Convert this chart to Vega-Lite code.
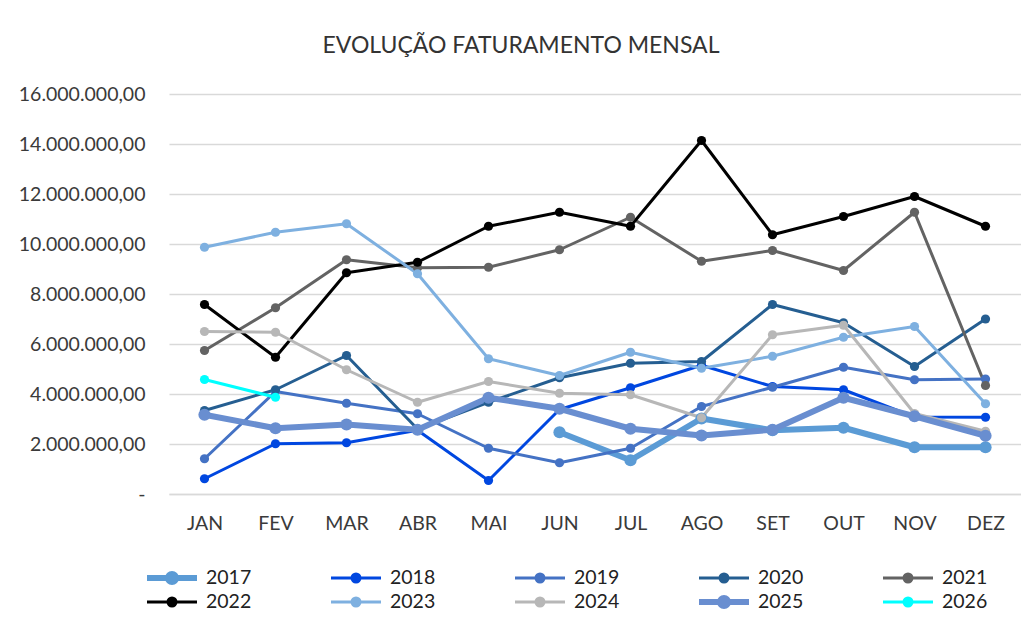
{
  "$schema": "https://vega.github.io/schema/vega-lite/v6.json",
  "autosize": {"type": "none"},
  "width": 852,
  "height": 400,
  "padding": {"left": 169, "top": 94, "right": 0, "bottom": 132},
  "background": "white",
  "title": {
    "text": "EVOLUÇÃO FATURAMENTO MENSAL",
    "font": "Lato",
    "fontSize": 23,
    "fontWeight": "normal",
    "color": "#333333",
    "anchor": "middle",
    "dx": -74,
    "offset": 26
  },
  "config": {
    "locale": {"number": {"decimal": ",", "thousands": ".", "grouping": [3], "currency": ["R$ ", ""]}},
    "view": {"stroke": null},
    "font": "Lato"
  },
  "data": {"values": [
    {"mes": "JUN", "ano": "2017", "valor": 2470000},
    {"mes": "JUL", "ano": "2017", "valor": 1350000},
    {"mes": "AGO", "ano": "2017", "valor": 3020000},
    {"mes": "SET", "ano": "2017", "valor": 2550000},
    {"mes": "OUT", "ano": "2017", "valor": 2650000},
    {"mes": "NOV", "ano": "2017", "valor": 1870000},
    {"mes": "DEZ", "ano": "2017", "valor": 1870000},
    {"mes": "JAN", "ano": "2018", "valor": 610000},
    {"mes": "FEV", "ano": "2018", "valor": 2010000},
    {"mes": "MAR", "ano": "2018", "valor": 2050000},
    {"mes": "ABR", "ano": "2018", "valor": 2550000},
    {"mes": "MAI", "ano": "2018", "valor": 540000},
    {"mes": "JUN", "ano": "2018", "valor": 3380000},
    {"mes": "JUL", "ano": "2018", "valor": 4250000},
    {"mes": "AGO", "ano": "2018", "valor": 5150000},
    {"mes": "SET", "ano": "2018", "valor": 4300000},
    {"mes": "OUT", "ano": "2018", "valor": 4170000},
    {"mes": "NOV", "ano": "2018", "valor": 3080000},
    {"mes": "DEZ", "ano": "2018", "valor": 3070000},
    {"mes": "JAN", "ano": "2019", "valor": 1410000},
    {"mes": "FEV", "ano": "2019", "valor": 4100000},
    {"mes": "MAR", "ano": "2019", "valor": 3630000},
    {"mes": "ABR", "ano": "2019", "valor": 3210000},
    {"mes": "MAI", "ano": "2019", "valor": 1830000},
    {"mes": "JUN", "ano": "2019", "valor": 1250000},
    {"mes": "JUL", "ano": "2019", "valor": 1830000},
    {"mes": "AGO", "ano": "2019", "valor": 3500000},
    {"mes": "SET", "ano": "2019", "valor": 4270000},
    {"mes": "OUT", "ano": "2019", "valor": 5070000},
    {"mes": "NOV", "ano": "2019", "valor": 4570000},
    {"mes": "DEZ", "ano": "2019", "valor": 4600000},
    {"mes": "JAN", "ano": "2020", "valor": 3340000},
    {"mes": "FEV", "ano": "2020", "valor": 4170000},
    {"mes": "MAR", "ano": "2020", "valor": 5540000},
    {"mes": "ABR", "ano": "2020", "valor": 2600000},
    {"mes": "MAI", "ano": "2020", "valor": 3670000},
    {"mes": "JUN", "ano": "2020", "valor": 4650000},
    {"mes": "JUL", "ano": "2020", "valor": 5230000},
    {"mes": "AGO", "ano": "2020", "valor": 5300000},
    {"mes": "SET", "ano": "2020", "valor": 7580000},
    {"mes": "OUT", "ano": "2020", "valor": 6850000},
    {"mes": "NOV", "ano": "2020", "valor": 5100000},
    {"mes": "DEZ", "ano": "2020", "valor": 7000000},
    {"mes": "JAN", "ano": "2021", "valor": 5740000},
    {"mes": "FEV", "ano": "2021", "valor": 7450000},
    {"mes": "MAR", "ano": "2021", "valor": 9370000},
    {"mes": "ABR", "ano": "2021", "valor": 9050000},
    {"mes": "MAI", "ano": "2021", "valor": 9070000},
    {"mes": "JUN", "ano": "2021", "valor": 9770000},
    {"mes": "JUL", "ano": "2021", "valor": 11070000},
    {"mes": "AGO", "ano": "2021", "valor": 9310000},
    {"mes": "SET", "ano": "2021", "valor": 9740000},
    {"mes": "OUT", "ano": "2021", "valor": 8940000},
    {"mes": "NOV", "ano": "2021", "valor": 11270000},
    {"mes": "DEZ", "ano": "2021", "valor": 4340000},
    {"mes": "JAN", "ano": "2022", "valor": 7580000},
    {"mes": "FEV", "ano": "2022", "valor": 5470000},
    {"mes": "MAR", "ano": "2022", "valor": 8850000},
    {"mes": "ABR", "ano": "2022", "valor": 9270000},
    {"mes": "MAI", "ano": "2022", "valor": 10710000},
    {"mes": "JUN", "ano": "2022", "valor": 11270000},
    {"mes": "JUL", "ano": "2022", "valor": 10710000},
    {"mes": "AGO", "ano": "2022", "valor": 14140000},
    {"mes": "SET", "ano": "2022", "valor": 10370000},
    {"mes": "OUT", "ano": "2022", "valor": 11100000},
    {"mes": "NOV", "ano": "2022", "valor": 11900000},
    {"mes": "DEZ", "ano": "2022", "valor": 10710000},
    {"mes": "JAN", "ano": "2023", "valor": 9870000},
    {"mes": "FEV", "ano": "2023", "valor": 10470000},
    {"mes": "MAR", "ano": "2023", "valor": 10810000},
    {"mes": "ABR", "ano": "2023", "valor": 8810000},
    {"mes": "MAI", "ano": "2023", "valor": 5410000},
    {"mes": "JUN", "ano": "2023", "valor": 4740000},
    {"mes": "JUL", "ano": "2023", "valor": 5670000},
    {"mes": "AGO", "ano": "2023", "valor": 5030000},
    {"mes": "SET", "ano": "2023", "valor": 5510000},
    {"mes": "OUT", "ano": "2023", "valor": 6270000},
    {"mes": "NOV", "ano": "2023", "valor": 6700000},
    {"mes": "DEZ", "ano": "2023", "valor": 3610000},
    {"mes": "JAN", "ano": "2024", "valor": 6500000},
    {"mes": "FEV", "ano": "2024", "valor": 6470000},
    {"mes": "MAR", "ano": "2024", "valor": 4970000},
    {"mes": "ABR", "ano": "2024", "valor": 3670000},
    {"mes": "MAI", "ano": "2024", "valor": 4500000},
    {"mes": "JUN", "ano": "2024", "valor": 4030000},
    {"mes": "JUL", "ano": "2024", "valor": 3970000},
    {"mes": "AGO", "ano": "2024", "valor": 3050000},
    {"mes": "SET", "ano": "2024", "valor": 6370000},
    {"mes": "OUT", "ano": "2024", "valor": 6750000},
    {"mes": "NOV", "ano": "2024", "valor": 3220000},
    {"mes": "DEZ", "ano": "2024", "valor": 2510000},
    {"mes": "JAN", "ano": "2025", "valor": 3170000},
    {"mes": "FEV", "ano": "2025", "valor": 2630000},
    {"mes": "MAR", "ano": "2025", "valor": 2780000},
    {"mes": "ABR", "ano": "2025", "valor": 2570000},
    {"mes": "MAI", "ano": "2025", "valor": 3850000},
    {"mes": "JUN", "ano": "2025", "valor": 3410000},
    {"mes": "JUL", "ano": "2025", "valor": 2610000},
    {"mes": "AGO", "ano": "2025", "valor": 2340000},
    {"mes": "SET", "ano": "2025", "valor": 2570000},
    {"mes": "OUT", "ano": "2025", "valor": 3850000},
    {"mes": "NOV", "ano": "2025", "valor": 3110000},
    {"mes": "DEZ", "ano": "2025", "valor": 2330000},
    {"mes": "JAN", "ano": "2026", "valor": 4580000},
    {"mes": "FEV", "ano": "2026", "valor": 3870000}
  ]},
  "encoding": {
    "x": {
      "field": "mes", "type": "ordinal",
      "sort": ["JAN","FEV","MAR","ABR","MAI","JUN","JUL","AGO","SET","OUT","NOV","DEZ"],
      "axis": {
        "title": null, "labelAngle": 0, "labelFont": "Lato", "labelFontSize": 19.5,
        "labelColor": "#3a3a3a", "labelPadding": 20, "ticks": false,
        "domain": true, "domainColor": "#d9d9d9", "domainWidth": 1.5, "grid": false
      }
    },
    "y": {
      "field": "valor", "type": "quantitative",
      "scale": {"domain": [0, 16000000], "nice": false},
      "axis": {
        "title": null, "values": [0,2000000,4000000,6000000,8000000,10000000,12000000,14000000,16000000],
        "format": ",.2f", "labelOverlap": false,
        "labelExpr": "datum.value == 0 ? '-' : datum.label",
        "labelFont": "Lato", "labelFontSize": 19.5, "labelColor": "#3a3a3a",
        "labelPadding": 24, "ticks": false, "domain": false,
        "grid": true, "gridColor": "#d9d9d9", "gridWidth": 1.5,
        "encode": {"labels": {"update": {"dx": {"signal": "datum.value == 0 ? -12 : 0"}}}}
      }
    },
    "color": {
      "field": "ano", "type": "nominal",
      "scale": {
        "domain": ["2017","2018","2019","2020","2021","2022","2023","2024","2025","2026"],
        "range": ["#5b9bd5","#0047e0","#4472c4","#255e91","#636363","#000000","#7eb0e0","#b7b7b7","#698ed0","#00ffff"]
      },
      "legend": {
        "title": null, "orient": "none", "legendX": -25, "legendY": 474,
        "direction": "horizontal", "columns": 5, "columnPadding": 76, "rowPadding": 4,
        "clipHeight": 20,
        "symbolType": "M-1,0H1M0.16,0A0.16,0.16,0,1,1,-0.16,0A0.16,0.16,0,1,1,0.16,0Z",
        "symbolSize": 2500,
        "labelFont": "Lato", "labelFontSize": 19.5, "labelColor": "#222222", "labelOffset": 6,
        "encode": {
          "symbols": {"update": {
            "fill": {"scale": "color", "field": "value"},
            "stroke": {"scale": "color", "field": "value"}
          }}
        }
      }
    }
  },
  "layer": [
    {
      "mark": {"type": "line", "strokeJoin": "round"},
      "encoding": {
        "strokeWidth": {
          "field": "ano", "type": "nominal",
          "scale": {
            "type": "ordinal",
            "domain": ["2017","2018","2019","2020","2021","2022","2023","2024","2025","2026"],
            "range": [6,3,3,3,3,3,3,3,6,3]
          },
          "legend": {
            "title": null, "orient": "none", "legendX": -25, "legendY": 474,
            "direction": "horizontal", "columns": 5, "columnPadding": 76, "rowPadding": 4,
            "clipHeight": 20,
            "symbolType": "M-1,0H1M0.16,0A0.16,0.16,0,1,1,-0.16,0A0.16,0.16,0,1,1,0.16,0Z",
            "symbolSize": 2500,
            "labelFont": "Lato", "labelFontSize": 19.5, "labelColor": "#222222", "labelOffset": 6
          }
        }
      }
    },
    {
      "mark": {"type": "point", "filled": true, "opacity": 1},
      "encoding": {
        "size": {"condition": {"test": "datum.ano == '2017' || datum.ano == '2025'", "value": 150}, "value": 85}
      }
    }
  ]
}
